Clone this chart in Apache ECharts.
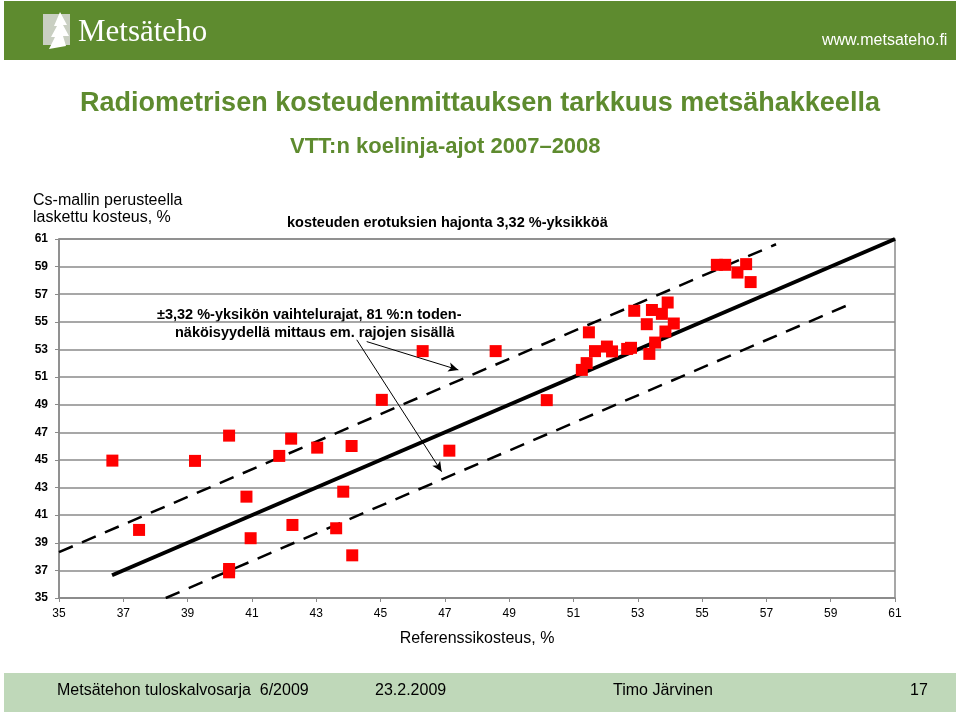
<!DOCTYPE html>
<html>
<head>
<meta charset="utf-8">
<script src="https://cdn.jsdelivr.net/npm/echarts@6/dist/echarts.min.js"></script>
<style>
html,body{margin:0;padding:0;background:#fff;}
#c{width:960px;height:716px;}
</style>
</head>
<body>
<div id="c"></div>
<script>
// Reference moisture (x) and Cs-model moisture (y)
const refMoisture = [36.66,37.49,39.23,40.29,40.29,40.29,40.83,40.96,41.85,42.22,42.26,43.03,43.62,43.84,44.10,44.12,45.04,46.31,47.14,48.58,50.17,51.26,51.41,51.48,51.67,52.04,52.20,52.67,52.79,52.89,53.28,53.36,53.44,53.54,53.75,53.86,53.93,54.12,55.46,55.72,56.10,56.37,56.51];
const csMoisture  = [44.95,39.93,44.93,46.76,37.10,36.86,42.34,39.33,45.29,46.54,40.29,45.89,40.05,42.70,46.01,38.09,49.35,52.88,45.67,52.88,49.33,51.52,52.01,54.24,52.88,53.21,52.86,53.04,53.12,55.80,54.83,52.68,55.86,53.50,55.58,54.30,56.40,54.88,59.13,59.13,58.57,59.18,57.88];
// Lines
const fitX = [36.65, 61];      const fitY = [36.65, 61];
const upperX = [35, 57.3];     const upperY = [38.32, 60.62];
const lowerX = [38.32, 59.6];  const lowerY = [35, 56.28];
// Arrows [x,y] start -> end
const arrow1 = [[44.26, 53.70],[46.90, 44.15]];
const arrow2 = [[44.57, 53.57],[47.42, 51.52]];

const pts = refMoisture.map((x,i)=>[x, csMoisture[i]]);
const pair = (xs,ys)=>xs.map((x,i)=>[x,ys[i]]);

const green = '#5e8b2f';
const sans = '"Liberation Sans",Arial,sans-serif';
const narrow = '"Liberation Sans Narrow","Arial Narrow","Liberation Sans",sans-serif';

const chart = echarts.init(document.getElementById('c'));
chart.setOption({
  animation:false,
  backgroundColor:'#fff',
  grid:{left:59,right:65,top:239,bottom:118,show:true,borderColor:'#8a8a8a',borderWidth:1.5,backgroundColor:'transparent'},
  xAxis:{type:'value',min:35,max:61,interval:2,
    axisLine:{show:true,onZero:false,lineStyle:{color:'#8a8a8a',width:1.5}},
    axisTick:{show:true,length:4,lineStyle:{color:'#8a8a8a'}},
    splitLine:{show:false},
    axisLabel:{color:'#000',fontSize:12,fontFamily:narrow,margin:10},
    name:'Referenssikosteus, %',nameLocation:'middle',nameGap:33,
    nameTextStyle:{color:'#000',fontSize:16,fontFamily:sans}
  },
  yAxis:{type:'value',min:35,max:61,interval:2,
    axisLine:{show:true,onZero:false,lineStyle:{color:'#8a8a8a',width:1.5}},
    axisTick:{show:true,length:4,lineStyle:{color:'#8a8a8a'}},
    splitLine:{show:true,lineStyle:{color:'#8a8a8a',width:1.5}},
    axisLabel:{color:'#000',fontSize:12,fontWeight:'bold',fontFamily:sans,margin:11}
  },
  series:[
    {type:'line',data:pair(upperX,upperY),symbol:'none',lineStyle:{color:'#000',width:2.5,type:[15,10]},z:3},
    {type:'line',data:pair(lowerX,lowerY),symbol:'none',lineStyle:{color:'#000',width:2.5,type:[15,10]},z:3},
    {type:'line',data:pair(fitX,fitY),symbol:'none',lineStyle:{color:'#000',width:4},z:3},
    {type:'scatter',data:pts,symbol:'rect',symbolSize:12,itemStyle:{color:'#ff0000',opacity:1},z:5},
    {type:'line',data:[],markLine:{silent:true,symbol:['none','arrow'],symbolSize:[7,10],
      lineStyle:{color:'#000',width:1,type:'solid'},label:{show:false},
      data:[[{coord:arrow1[0]},{coord:arrow1[1]}],[{coord:arrow2[0]},{coord:arrow2[1]}]]},z:6}
  ],
  graphic:[
    {type:'rect',shape:{x:4,y:1,width:952,height:59},style:{fill:green},silent:true},
    {type:'rect',shape:{x:43,y:14,width:27,height:31},style:{fill:'#c9cfc2'},silent:true},
    {type:'polygon',shape:{points:[[60,12],[67,25],[63,25],[69,36],[63,36],[66,46],[49,49],[55,37],[51,37],[57,26],[54,26]]},style:{fill:'#fff'},silent:true},
    {type:'text',left:78,top:17,style:{text:'Metsäteho',fill:'#fff',font:'31px "Liberation Serif","DejaVu Serif",serif'}},
    {type:'text',left:822,top:33,style:{text:'www.metsateho.fi',fill:'#fff',font:'16px '+narrow}},
    {type:'text',left:'center',top:90,style:{text:'Radiometrisen kosteudenmittauksen tarkkuus metsähakkeella',fill:green,font:'bold 27px '+sans}},
    {type:'text',left:290,top:136,style:{text:'VTT:n koelinja-ajot 2007–2008',fill:green,font:'bold 22px '+sans}},
    {type:'text',left:33,top:192,style:{text:'Cs-mallin perusteella\nlaskettu kosteus, %',fill:'#000',font:'16px '+sans,lineHeight:17}},
    {type:'text',left:287,top:215,style:{text:'kosteuden erotuksien hajonta 3,32 %-yksikköä',fill:'#000',font:'bold 14.5px '+sans}},
    {type:'text',left:157,top:307,style:{text:'±3,32 %-yksikön vaihtelurajat, 81 %:n toden-',fill:'#000',font:'bold 14.5px '+sans}},
    {type:'text',left:175,top:325,style:{text:'näköisyydellä mittaus em. rajojen sisällä',fill:'#000',font:'bold 14.5px '+sans}},
    {type:'rect',shape:{x:4,y:673,width:952,height:39},style:{fill:'#bfd8b9'},silent:true},
    {type:'text',left:57,top:683,style:{text:'Metsätehon tuloskalvosarja  6/2009',fill:'#000',font:'16px '+narrow}},
    {type:'text',left:375,top:683,style:{text:'23.2.2009',fill:'#000',font:'16px '+narrow}},
    {type:'text',left:613,top:683,style:{text:'Timo Järvinen',fill:'#000',font:'16px '+narrow}},
    {type:'text',left:910,top:683,style:{text:'17',fill:'#000',font:'16px '+narrow}}
  ]
});
</script>
</body>
</html>
